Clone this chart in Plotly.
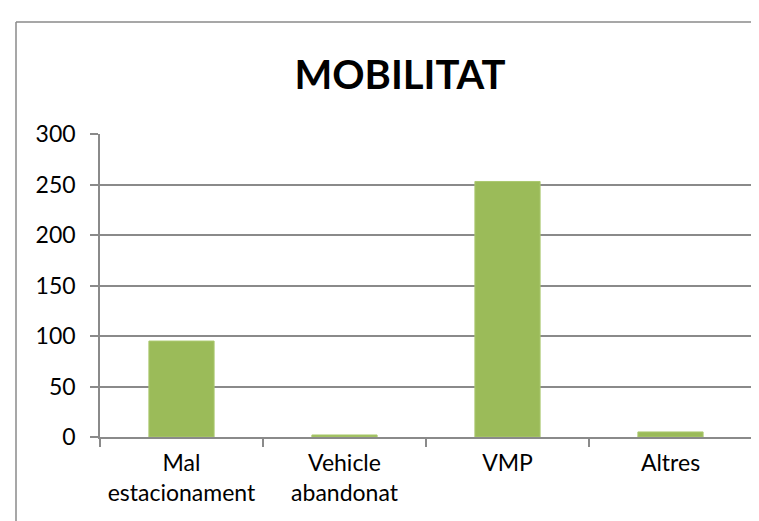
import plotly.graph_objects as go

# dades del gràfic
categories = ["Mal<br>estacionament", "Vehicle<br>abandonat", "VMP", "Altres"]
values = [95, 2, 253, 5]
y_ticks = [0, 50, 100, 150, 200, 250, 300]

W, H = 759, 521
L, R, T, B = 92, 15, 126, 92
pw, ph = W - L - R, H - T - B

grey = "#8a8a8a"

fig = go.Figure(go.Bar(
    x=categories, y=values,
    marker=dict(color="#9bbb59", line=dict(color="#abc96f", width=1)),
))

# marc exterior del gràfic (esquerra i dalt)
bx = (8 - L) / pw
by = 1 + (T - 14) / ph
fig.add_shape(type="line", xref="paper", yref="paper",
              x0=bx, x1=bx, y0=-1, y1=by, line=dict(color=grey, width=1.5))
fig.add_shape(type="line", xref="paper", yref="paper",
              x0=bx, x1=2, y0=by, y1=by, line=dict(color=grey, width=1.5))

fig.update_layout(
    width=W, height=H,
    margin=dict(l=L, r=R, t=T, b=B),
    paper_bgcolor="white", plot_bgcolor="white",
    bargap=0.6,
    showlegend=False,
    font=dict(family="Lato", size=23, color="black"),
    title=dict(text="<b>MOBILITAT</b>", x=392 / W, xanchor="center",
               y=1 - 67 / H, yanchor="middle", xref="container", yref="container",
               font=dict(family="Lato", size=40, color="black")),
)
fig.update_xaxes(
    showline=True, linecolor=grey, linewidth=1.5,
    ticks="outside", tickson="boundaries", ticklen=8, tickcolor=grey, tickwidth=1.5,
    showgrid=False, ticklabelstandoff=5,
)
fig.update_yaxes(
    range=[0, 300], tickvals=y_ticks,
    showline=True, linecolor=grey, linewidth=1.5,
    ticks="outside", ticklen=8, tickcolor=grey, tickwidth=1.5,
    showgrid=True, gridcolor=grey, gridwidth=1.5,
    zeroline=False, ticklabelstandoff=10,
)

fig.write_html("out.html")
